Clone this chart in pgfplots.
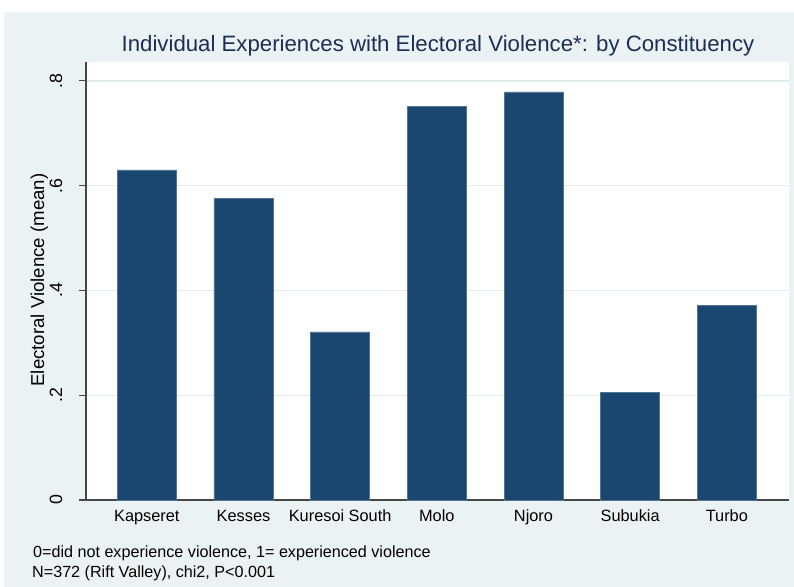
\documentclass[border=0pt]{standalone}
\usepackage{pgfplots}
\pgfplotsset{compat=1.18}
\usepackage{fontspec}
\setmainfont{Liberation Sans}

\definecolor{graphbg}{RGB}{234,242,243}
\definecolor{gridc}{RGB}{224,235,236}
\definecolor{barnavy}{RGB}{26,71,111}
\definecolor{titlenavy}{RGB}{30,45,85}
\definecolor{axisgray}{RGB}{70,70,70}

\begin{document}
\begin{tikzpicture}
% page and graph region
\fill[white] (0,0) rectangle (794bp,-587bp);
\fill[graphbg] (4bp,-12bp) rectangle (794bp,-587bp);

\begin{axis}[
  at={(86bp,-500bp)}, anchor=south west,
  scale only axis, width=702.7bp, height=438bp,
  xmin=-0.629, xmax=6.64, ymin=0, ymax=0.836,
  axis background/.style={fill=white},
  axis x line*=bottom, axis y line*=left,
  axis line style={-, axisgray, line width=1.1bp},
  ytick={0,0.2,0.4,0.6,0.8}, yticklabels={0,.2,.4,.6,.8},
  xtick={0,1,2,3,4,5,6},
  xticklabels={Kapseret,Kesses,Kuresoi South,Molo,Njoro,Subukia,Turbo},
  xtick style={draw=none},
  ytick style={axisgray, line width=1.1bp},
  tick align=outside, major tick length=7bp,
  ymajorgrids, grid style={gridc, line width=1.3bp},
  /pgf/number format/assume math mode=true,
  tick label style={font=\fontsize{16.4}{19}\selectfont, inner sep=0pt},
  yticklabel style={rotate=90, anchor=base, yshift=17bp, font=\fontsize{17.8}{20}\selectfont},
  xticklabel style={anchor=base, yshift=-14.5bp},
]
\addplot[ybar, bar width=0.61, fill=barnavy, draw=barnavy!75!white, line width=0.6bp]
  coordinates {(0,0.630) (1,0.575) (2,0.321) (3,0.751) (4,0.779) (5,0.205) (6,0.371)};
\end{axis}

% title, axis title and notes
\node[anchor=base, text=titlenavy, font=\fontsize{22.3}{25}\selectfont, inner sep=0pt]
  at (438bp,-51bp) {Individual Experiences with Electoral Violence*: by Constituency};
\node[rotate=90, anchor=base, font=\fontsize{18.7}{22}\selectfont, inner sep=0pt]
  at (44bp,-280bp) {Electoral Violence (mean)};
\node[anchor=base west, font=\fontsize{16.2}{19}\selectfont, inner sep=0pt]
  at (33bp,-557bp) {0=did not experience violence, 1= experienced violence};
\node[anchor=base west, font=\fontsize{16.2}{19}\selectfont, inner sep=0pt]
  at (32bp,-577.5bp) {N=372 (Rift Valley), chi2, P<0.001};
\end{tikzpicture}
\end{document}
